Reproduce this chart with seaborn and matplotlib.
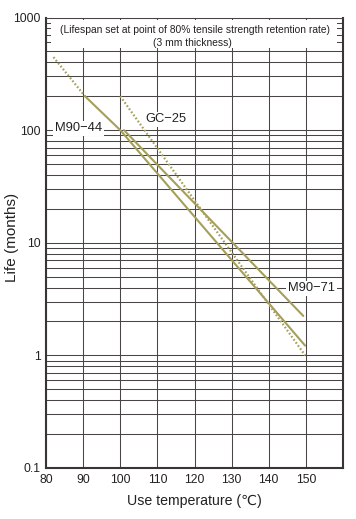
import matplotlib
matplotlib.use("Agg")
import matplotlib.pyplot as plt
import seaborn as sns
import pandas as pd
from matplotlib.patches import Rectangle
from matplotlib.ticker import FixedLocator, FixedFormatter, LogLocator, NullFormatter

# ---- data ----
m9044_x = [90.5, 100, 149.8]
m9044_y = [200, 100, 1.22]
m9044_ext_x = [82, 90.5]
m9044_ext_y = [445, 200]
m9071_x = [101, 149.3]
m9071_y = [100, 2.24]
gc25_x = [100, 149.8]
gc25_y = [200, 1.0]

x_ticks = [80, 90, 100, 110, 120, 130, 140, 150, 160]
x_tick_labels = ["80", "90", "100", "110", "120", "130", "140", "150", ""]
y_ticks = [0.1, 1, 10, 100, 1000]
y_tick_labels = ["0.1", "1", "10", "100", "1000"]

title_lines = ["(Lifespan set at point of 80% tensile strength retention rate)",
               "(3 mm thickness)"]
xlabel = "Use temperature (℃)"
ylabel = "Life (months)"

sns.set_style("white")
plt.rcParams['font.family'] = ['Liberation Sans', 'DejaVu Sans']

LINE = '#a59f5a'
GRID = '#4a4545'
TXT = '#222222'

fig = plt.figure(figsize=(3.56, 5.19), dpi=100)
ax = fig.add_axes([46/356, 51/519, 297/356, 450.5/519])

def seg(xs, ys, name):
    return pd.DataFrame({"x": xs, "y": ys, "s": name})

df_solid = pd.concat([seg(m9044_x, m9044_y, "M90-44"), seg(m9071_x, m9071_y, "M90-71")])
df_dot = pd.concat([seg(m9044_ext_x, m9044_ext_y, "M90-44 ext"), seg(gc25_x, gc25_y, "GC-25")])

sns.lineplot(data=df_solid, x="x", y="y", units="s", estimator=None, color=LINE,
             lw=1.5, ax=ax, sort=False, zorder=3)
sns.lineplot(data=df_dot, x="x", y="y", units="s", estimator=None, color=LINE,
             lw=1.6, ax=ax, sort=False, zorder=3, dashes=False)
for ln in ax.get_lines()[len(df_solid["s"].unique()):]:
    ln.set_linestyle((0, (0.75, 0.95)))

ax.set_yscale('log')
ax.set_xlim(80, 160)
ax.set_ylim(0.1, 1000)

ax.xaxis.set_major_locator(FixedLocator(x_ticks))
ax.xaxis.set_major_formatter(FixedFormatter(x_tick_labels))
ax.yaxis.set_major_locator(FixedLocator(y_ticks))
ax.yaxis.set_major_formatter(FixedFormatter(y_tick_labels))
ax.yaxis.set_minor_locator(LogLocator(base=10, subs=[2, 3, 4, 5, 6, 7, 8, 9]))
ax.yaxis.set_minor_formatter(NullFormatter())

ax.grid(True, which='both', axis='y', color=GRID, lw=0.75)
ax.grid(True, which='major', axis='x', color=GRID, lw=0.75)
ax.set_axisbelow(True)
ax.tick_params(axis='both', which='both', length=0, labelsize=8.8, colors=TXT)
ax.tick_params(axis='x', pad=4)
ax.tick_params(axis='y', pad=4)

for side in ['left', 'bottom', 'right']:
    ax.spines[side].set_color('#3a3535')
    ax.spines[side].set_linewidth(1.5)
    ax.spines[side].set_visible(True)
ax.spines['top'].set_color(GRID)
ax.spines['top'].set_linewidth(0.75)
ax.spines['top'].set_visible(True)

ax.set_xlabel(xlabel, fontsize=10.2, color=TXT, labelpad=6)
ax.set_ylabel(ylabel, fontsize=11, color=TXT, va='center')
ax.yaxis.set_label_coords(-0.1155, 0.512)

# white box for the note
ax.add_patch(Rectangle((0.0185, 0.932), 0.962, 0.062, transform=ax.transAxes,
                       facecolor='white', edgecolor='none', zorder=1.5))
ax.text(0.502, 0.973, title_lines[0], transform=ax.transAxes, ha='center', va='center',
        fontsize=7.4, color=TXT, zorder=4)
ax.text(0.493, 0.944, title_lines[1], transform=ax.transAxes, ha='center', va='center',
        fontsize=7.4, color=TXT, zorder=4)

bb = dict(facecolor='white', edgecolor='none', pad=1.2)
ax.text(88.8, 104, "M90−44", ha='center', va='center', fontsize=9.3, color=TXT, bbox=bb, zorder=4)
ax.text(112.3, 125, "GC−25", ha='center', va='center', fontsize=9.3, color=TXT, bbox=bb, zorder=4)
ax.text(151.5, 3.95, "M90−71", ha='center', va='center', fontsize=9.3, color=TXT, bbox=bb, zorder=4)

fig.savefig("out.png", dpi=100)
